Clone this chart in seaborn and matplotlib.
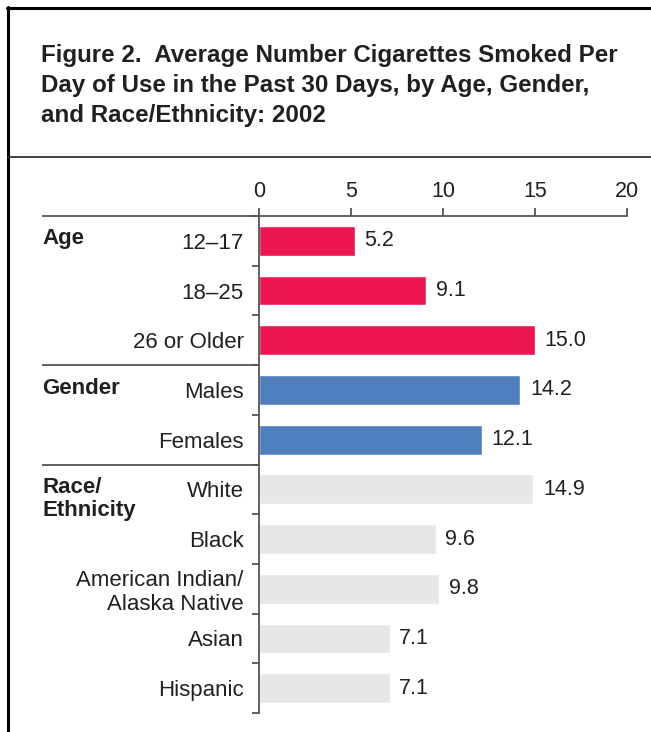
import numpy as np
import pandas as pd
import seaborn as sns
import matplotlib.pyplot as plt
from matplotlib.lines import Line2D
from matplotlib.transforms import blended_transform_factory

# data
groups = ['Age'] * 3 + ['Gender'] * 2 + ['Race/Ethnicity'] * 5
categories = ['12–17', '18–25', '26 or Older', 'Males', 'Females',
              'White', 'Black', 'American Indian/\nAlaska Native', 'Asian', 'Hispanic']
values = [5.2, 9.1, 15.0, 14.2, 12.1, 14.9, 9.6, 9.8, 7.1, 7.1]
group_labels = ['Age', 'Gender', 'Race/\nEthnicity']
group_starts = [0, 3, 5]
x_ticks = [0, 5, 10, 15, 20]
title_lines = ['Figure 2.  Average Number Cigarettes Smoked Per',
               'Day of Use in the Past 30 Days, by Age, Gender,',
               'and Race/Ethnicity: 2002']

palette = {'Age': '#ED1650', 'Gender': '#4F7FBD', 'Race/Ethnicity': '#E6E7E8'}
text_col = '#231F20'
axis_col = '#555555'
fs = 15.5
fs_cat = 16

sns.set_theme(style='white')
plt.rcParams['font.family'] = ['Liberation Sans', 'DejaVu Sans']

W, H = 651, 732
fig = plt.figure(figsize=(W / 100, H / 100), dpi=100)
ax = fig.add_axes([259 / W, 1 - 713 / H, (627 - 259) / W, (713 - 216) / H])

df = pd.DataFrame({'group': groups, 'category': categories, 'value': values})
sns.barplot(data=df, x='value', y='category', hue='group', palette=palette,
            dodge=False, width=0.6, saturation=1, legend=False, ax=ax)

ax.set_xlim(0, 20)
ax.set_ylim(9.5, -0.5)
ax.set_xlabel('')
ax.set_ylabel('')
ax.xaxis.tick_top()
ax.set_xticks(x_ticks)

for side in ['right', 'bottom']:
    ax.spines[side].set_visible(False)
for side in ['top', 'left']:
    ax.spines[side].set_color(axis_col)
    ax.spines[side].set_linewidth(1.3)

ax.tick_params(axis='x', top=True, bottom=False, direction='out', length=6,
               width=1.3, color=axis_col, labelsize=fs, labelcolor=text_col, pad=4)
ax.tick_params(axis='y', which='major', left=False, length=0, pad=11,
               labelsize=fs_cat, labelcolor=text_col)
ax.set_yticks(np.arange(-0.5, 10, 1), minor=True)
ax.tick_params(axis='y', which='minor', left=True, direction='out', length=5,
               width=1.3, color=axis_col)

for c in ax.containers:
    ax.bar_label(c, fmt='%.1f', padding=7, fontsize=fs, color=text_col)

# group labels and separators on the left
trans = blended_transform_factory(ax.transAxes, ax.transData)
x_left = (42 - 259) / (627 - 259)
for lab, start in zip(group_labels, group_starts):
    ax.text(x_left, start - 0.25, lab, transform=trans, ha='left', va='top',
            fontsize=fs_cat, fontweight='bold', color=text_col, linespacing=1.1)
for yb in [-0.5, 2.5, 4.5]:
    ax.plot([x_left, 0], [yb, yb], transform=trans, color=axis_col, lw=1.3,
            clip_on=False, solid_capstyle='butt')

# title box
for i, line in enumerate(title_lines):
    fig.text(41 / W, 1 - (62 + i * 30) / H, line, fontsize=17.4, fontweight='bold',
             color=text_col, ha='left', va='baseline')
fig.add_artist(Line2D([8 / W, 8 / W], [0, 1 - 7 / H], color='black', lw=2.2))
fig.add_artist(Line2D([7 / W, 1], [1 - 8 / H, 1 - 8 / H], color='black', lw=2.2))
fig.add_artist(Line2D([8 / W, 1], [1 - 157 / H, 1 - 157 / H], color='#333333', lw=1.3))

fig.savefig('out.png', dpi=100)
